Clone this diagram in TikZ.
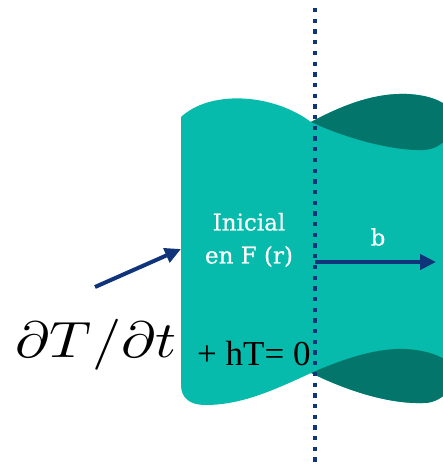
\documentclass[tikz,border=0pt]{standalone}
\usepackage{fontspec}
\usepackage{unicode-math}
\setmathfont{Latin Modern Math}
\usetikzlibrary{arrows.meta}
\newfontfamily\labelfont[FakeBold=0.6]{DejaVu Serif}
\newfontfamily\eqfont{Liberation Serif}
\definecolor{tealmain}{RGB}{6,186,172}
\definecolor{tealdark}{RGB}{4,117,106}
\definecolor{navy}{RGB}{16,52,122}
\tikzset{
  navyarrow/.style={draw=navy, line width=4pt, -{Triangle[length=16pt,width=15pt]}},
  dotline/.style={draw=navy, line width=4.3pt, dash pattern=on 4.3pt off 6.4pt},
  whitelabel/.style={text=white, font=\labelfont\fontsize{23}{33}\selectfont, inner sep=0pt, align=center},
}
\begin{document}
\begin{tikzpicture}[x=1pt,y=-1pt]
\useasboundingbox (0,0) rectangle (443,466);
\clip (0,0) rectangle (443,466);
% coordinates
\coordinate (tl) at (181,117);
\coordinate (tm) at (311,122);
\coordinate (bm) at (311,373);
\coordinate (dtop) at (315,8);
\coordinate (dbot) at (315,470);
% main body
\fill[tealmain] (tl) .. controls (210,90) and (272,93) .. (tm)
  .. controls (350,101) and (380,93) .. (407,94)
  .. controls (427,95) and (442,100) .. (452,110)
  -- (452,388)
  .. controls (442,398) and (435,403) .. (423,403)
  .. controls (390,404) and (350,392) .. (bm)
  .. controls (270,392) and (240,405) .. (205,405)
  .. controls (190,405) and (181,398) .. (181,385)
  -- cycle;
% top lobe
\fill[tealdark] (tm) .. controls (350,101) and (380,93) .. (407,94)
  .. controls (427,95) and (442,100) .. (452,110)
  -- (452,132)
  .. controls (445,143) and (435,150) .. (423,150)
  .. controls (395,151) and (350,140) .. (tm) -- cycle;
% bottom lobe
\fill[tealdark] (bm) .. controls (350,356) and (380,348) .. (405,349)
  .. controls (425,350) and (440,355) .. (452,364)
  -- (452,388)
  .. controls (442,398) and (435,403) .. (423,403)
  .. controls (390,404) and (350,392) .. (bm) -- cycle;
% dotted line
\draw[dotline] (dtop) -- (dbot);
% labels
\node[whitelabel] (ini) at (249,240) {Inicial\\en F (r)};
\node[whitelabel] (b) at (378,237) {b};
\node[inner sep=0pt, anchor=base west, font=\eqfont\fontsize{35}{38}\selectfont] (eq) at (197,365) {+ hT= 0};
\node[inner sep=0pt, anchor=base west, font=\fontsize{51}{56}\selectfont] (dt) at (15,357) {\scalebox{1.14}[1]{$\partial T/\partial t$}};
% arrows
\coordinate (a1s) at (95,287);
\coordinate (a1e) at (181,249);
\coordinate (a2s) at (315,262);
\coordinate (a2e) at (436,262);
\draw[navyarrow] (a1s) -- (a1e);
\draw[navyarrow] (a2s) -- (a2e);
\end{tikzpicture}
\end{document}
